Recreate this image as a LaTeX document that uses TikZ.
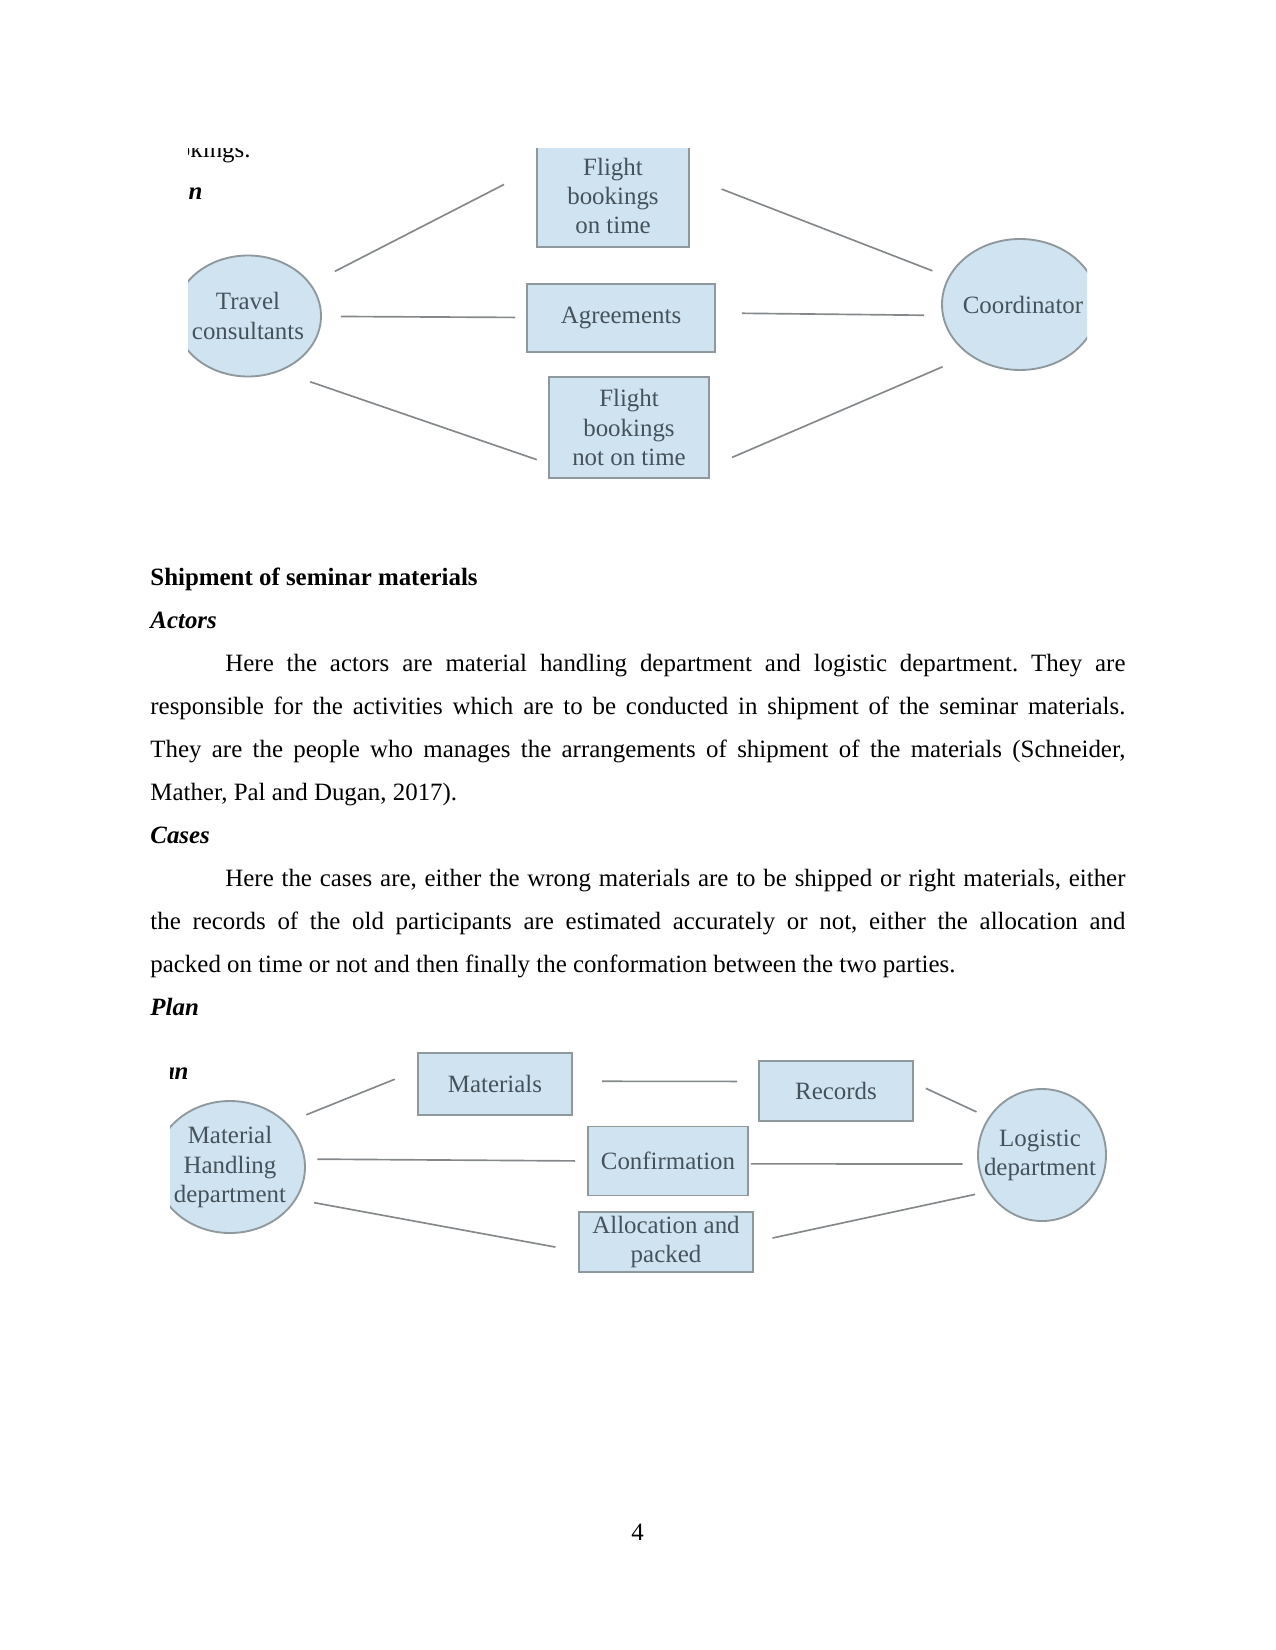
\documentclass[tikz,border=0pt]{standalone}
\usepackage{fontspec}
\setmainfont{Liberation Serif}
\usepackage{xcolor}
\usepackage{tikz}
\usetikzlibrary{shapes.geometric}
\definecolor{ucfill}{HTML}{CFE4F0}
\definecolor{ucline}{HTML}{8F989D}
\definecolor{linkc}{HTML}{85888B}
\definecolor{uctext}{HTML}{45525B}
\newdimen\px \px=0.4818pt
\tolerance=10000
\hyphenpenalty=10000
\frenchspacing
\tikzset{
  actor/.style={ellipse,draw=ucline,fill=ucfill,line width=0.9pt,inner sep=0pt},
  actortext/.style={align=center,text=uctext,inner sep=0pt,font=\fontsize{12}{14}\selectfont},
  usecase/.style={draw=ucline,fill=ucfill,line width=0.9pt,inner sep=0pt,align=center,text=uctext,font=\fontsize{12}{14}\selectfont},
  link/.style={draw=linkc,line width=0.8pt},
  cut/.style={inner sep=0pt,anchor=base east},
  heading/.style={inner sep=0pt,anchor=base west,font=\fontsize{12}{14}\selectfont\bfseries},
  subhead/.style={inner sep=0pt,anchor=base west,font=\fontsize{12}{14}\selectfont\bfseries\itshape},
  para/.style={inner sep=0pt,anchor=base west,text width=6.5in,align=justify,font=\fontsize{12}{20.72}\selectfont},
}

\begin{document}
\begin{tikzpicture}[x=0.4818pt,y=-0.4818pt,font=\fontsize{12}{14}\selectfont]
  \useasboundingbox (0,0) rectangle (1275,1650);
  \fill[white] (0,0) rectangle (1275,1650);
  % travel plan picture
  \begin{scope}
    \clip (188,149) rectangle (1087,492);
    \node[cut] (frag1) at (251,158) {bookings.};
    \node[cut,font=\fontsize{12}{14}\selectfont\bfseries\itshape] (frag2) at (203,200) {Plan};
    \node[actor,minimum width=146*\px,minimum height=121*\px,label={[actortext]center:Travel\\consultants}] (tc) at (248,316) {};
    \node[actor,minimum width=156*\px,minimum height=131*\px,label={[actortext,xshift=3*\px]center:Coordinator}] (co) at (1020,304.5) {};
    \node[usecase,minimum width=152*\px,minimum height=102*\px] (fb1) at (613,196) {Flight\\bookings\\on time};
    \node[usecase,minimum width=188*\px,minimum height=68*\px] (ag) at (621,318) {Agreements};
    \node[usecase,minimum width=160*\px,minimum height=101*\px] (fb2) at (629,427.5) {Flight\\bookings\\not on time};
    \draw[link,shorten <=27*\px,shorten >=36*\px] (tc) -- (fb1.160);
    \draw[link,shorten <=19*\px,shorten >=11*\px] (tc) -- (ag);
    \draw[link,shorten <=32*\px,shorten >=12*\px] (tc.300) -- (fb2.204);
    \draw[link,shorten <=34*\px,shorten >=17*\px] (fb1.14) -- (co.159);
    \draw[link,shorten <=26*\px,shorten >=18*\px] (ag.3) -- (co.188);
    \draw[link,shorten <=24*\px,shorten >=29*\px] (fb2.334) -- (co.225);
  \end{scope}
  % text of the page
  \node[heading] (shiphead) at (150,585) {Shipment of seminar materials};
  \node[subhead] (actorshead) at (150,628) {Actors};
  \node[para] (actorspara) at (150,671) {\hspace*{0.5in}Here the actors are material handling department and logistic department. They are\linebreak
    responsible for the activities which are to be conducted in shipment of the seminar materials.\linebreak
    They are the people who manages the arrangements of shipment of the materials (Schneider,\linebreak
    Mather, Pal and Dugan, 2017).};
  \node[subhead] (caseshead) at (150,843) {Cases};
  \node[para] (casespara) at (150,886) {\hspace*{0.5in}Here the cases are, either the wrong materials are to be shipped or right materials, either\linebreak
    the records of the old participants are estimated accurately or not, either the allocation and\linebreak
    packed on time or not and then finally the conformation between the two parties.};
  \node[subhead] (planhead) at (150,1015) {Plan};
  % shipment plan picture
  \begin{scope}
    \clip (170,1045) rectangle (1112,1285);
    \node[cut,font=\fontsize{12}{14}\selectfont\bfseries\itshape] (frag3) at (189,1079) {Plan};
    \node[actor,minimum width=150*\px,minimum height=132*\px,label={[actortext]center:Material\\Handling\\department}] (mhd) at (230,1167) {};
    \node[actor,minimum width=128*\px,minimum height=132*\px,label={[actortext,xshift=-2*\px]center:Logistic\\department}] (ld) at (1042,1155) {};
    \node[usecase,minimum width=154*\px,minimum height=62*\px] (mat) at (495,1084) {Materials};
    \node[usecase,minimum width=154*\px,minimum height=60*\px] (rec) at (836,1091) {Records};
    \node[usecase,minimum width=160*\px,minimum height=69*\px] (conf) at (668,1161) {Confirmation};
    \node[usecase,minimum width=174*\px,minimum height=60*\px] (alloc) at (666,1242) {Allocation and\\packed};
    \draw[link,shorten <=21*\px,shorten >=24*\px] (mhd.38) -- (mat.170);
    \draw[link,shorten <=12*\px,shorten >=12*\px] (mhd.6) -- (conf.west);
    \draw[link,shorten <=18*\px,shorten >=23*\px] (mhd.334) -- (alloc.186);
    \draw[link,shorten <=29*\px,shorten >=21*\px] (mat.2) -- (rec.173);
    \draw[link,shorten <=13*\px,shorten >=13*\px] (rec.6) -- (ld.145);
    \draw[link,shorten <=2*\px,shorten >=15*\px] (conf.358) -- (ld.188);
    \draw[link,shorten <=19*\px,shorten >=13*\px] (alloc.east) -- (ld.214);
  \end{scope}
  \node[anchor=base] (pagenum) at (637.5,1540) {4};
\end{tikzpicture}
\end{document}
